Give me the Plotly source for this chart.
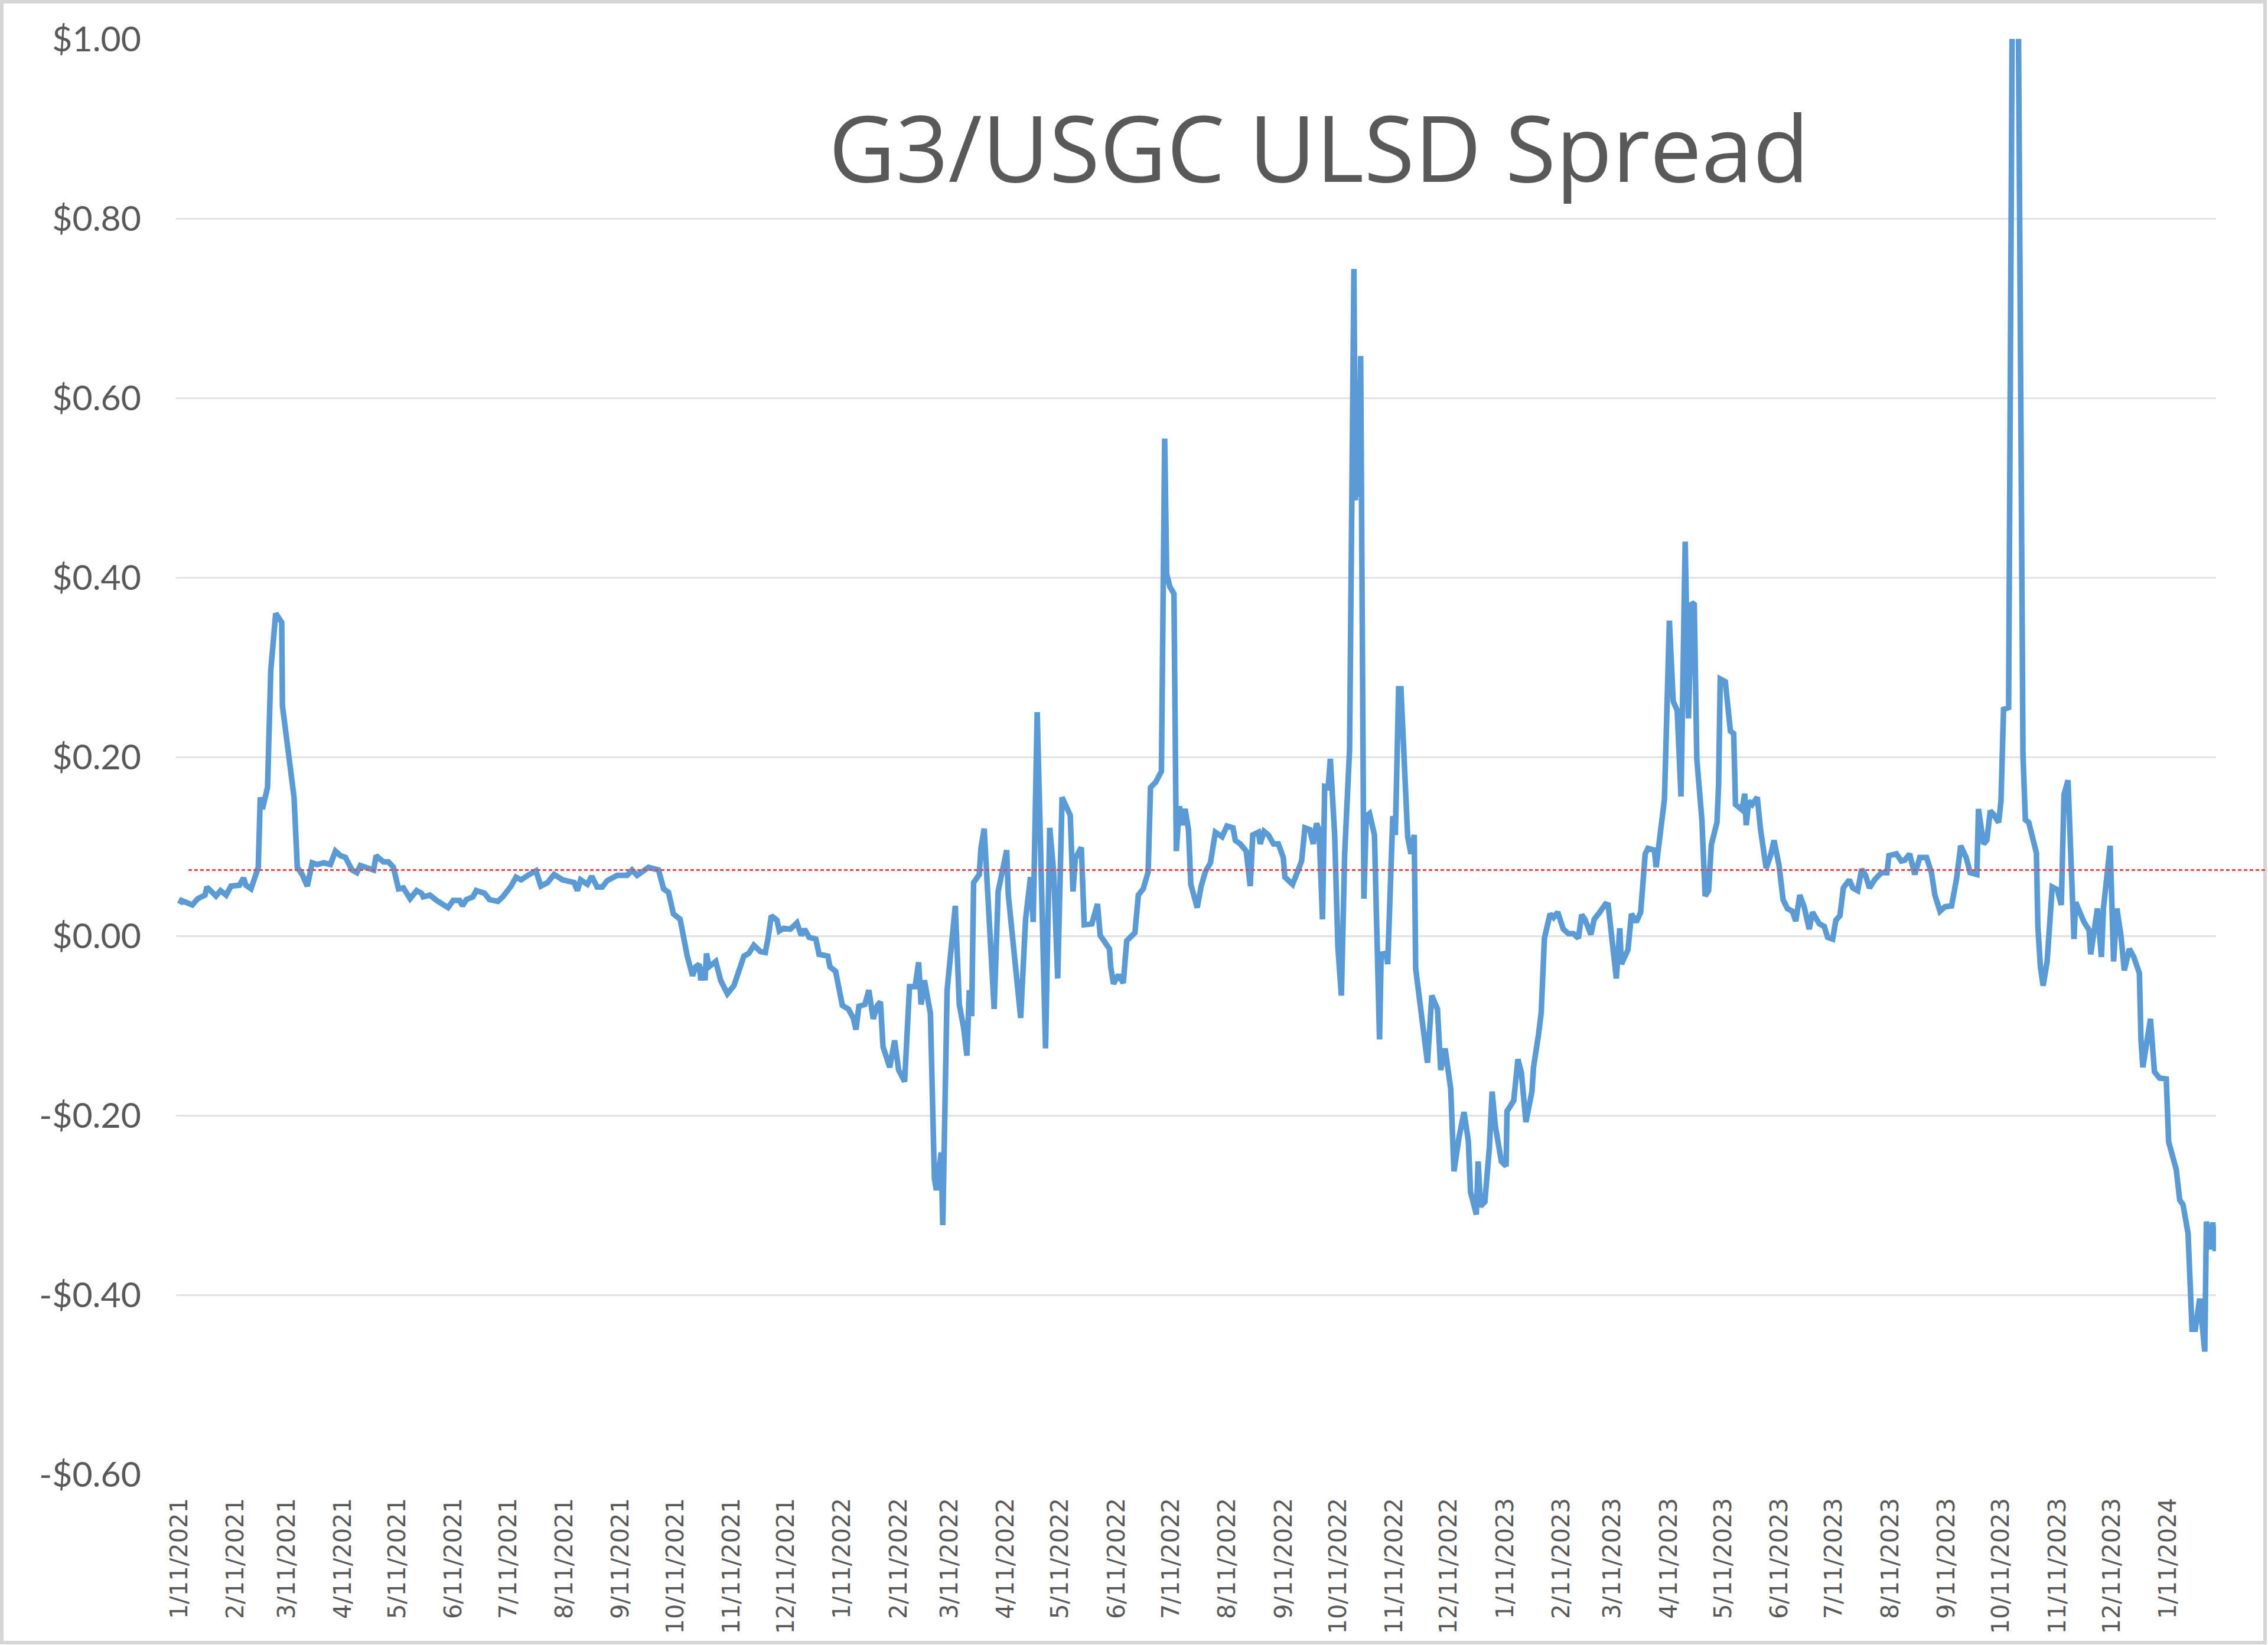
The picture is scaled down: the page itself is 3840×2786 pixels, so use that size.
import plotly.graph_objects as go
import pandas as pd

# ---------------- data ----------------
BASE_DATE = "2021-01-11"          # day offsets below are counted from this date

pts_2021 = [
    (0, 0.036), (1, 0.040), (7, 0.035), (10, 0.042), (14, 0.046), (15, 0.055), (20, 0.045),
    (22.5, 0.051), (25.6, 0.046), (28.3, 0.056), (32.9, 0.057), (35.2, 0.065), (36.5, 0.057),
    (39.3, 0.053), (42, 0.069), (43.3, 0.077), (44.4, 0.155), (45.6, 0.142), (48.4, 0.166),
    (50.2, 0.297), (52.9, 0.360), (54.8, 0.355), (56.2, 0.350), (56.6, 0.257), (58.4, 0.229),
    (60.2, 0.210), (63, 0.155), (64.8, 0.077), (67.5, 0.069), (70.3, 0.056), (73, 0.082),
    (75.7, 0.080), (79.4, 0.082), (83, 0.080), (85.8, 0.095), (88.5, 0.090), (91.3, 0.088),
    (94.9, 0.074), (97.6, 0.071), (99.5, 0.079), (106.8, 0.074), (108.2, 0.090), (112.2, 0.083),
    (115, 0.083), (117.7, 0.077), (120.5, 0.053), (123.2, 0.054), (126.9, 0.042), (130.5, 0.051),
    (133.2, 0.048), (134.1, 0.044), (137.8, 0.046), (141.5, 0.040), (147.8, 0.032), (150.6, 0.040),
    (154.2, 0.040), (155.7, 0.034), (157.9, 0.041), (161.5, 0.044), (163.3, 0.051), (167.9, 0.048),
    (170.6, 0.041), (175.2, 0.039), (177.9, 0.044), (182.5, 0.056), (185.2, 0.066), (188, 0.063),
    (192.5, 0.069), (196.2, 0.073), (198.9, 0.056), (202.6, 0.060), (206.2, 0.069), (210.8, 0.063),
    (217.2, 0.060), (219, 0.051), (220.8, 0.063), (224.5, 0.058), (226.9, 0.067), (229.9, 0.055),
    (232.7, 0.055), (235.4, 0.062), (240.9, 0.068), (246.4, 0.068), (249.1, 0.074), (251.9, 0.068),
    (258.2, 0.077), (263.7, 0.074), (266.5, 0.053), (269.2, 0.049), (271.9, 0.025), (275.6, 0.019),
    (279.5, -0.022), (282.4, -0.044), (284.2, -0.034), (286.1, -0.031), (287, -0.049),
    (288.2, -0.034), (289.3, -0.049), (290.1, -0.019), (291.5, -0.034), (295.2, -0.028),
    (297.9, -0.049), (301.6, -0.064), (305.2, -0.055), (308, -0.038), (310.7, -0.022),
    (313.4, -0.019), (316.2, -0.010), (319.8, -0.017), (322.5, -0.018), (324, -0.002),
    (325.8, 0.023), (328.9, 0.018), (330.2, 0.006), (332.6, 0.009), (336.2, 0.008),
    (339.9, 0.015), (342.3, 0.001), (344.1, 0.008), (346.6, -0.001), (350.3, -0.003),
    (352.1, -0.020),
]

pts_2022 = [
    (356.9, -0.022), (358.1, -0.034), (361.2, -0.039), (364.9, -0.077), (368.2, -0.081),
    (370.9, -0.091), (372.4, -0.104), (374, -0.078), (377.3, -0.076), (379.5, -0.060),
    (381.9, -0.092), (384.2, -0.077), (385.9, -0.073), (387.3, -0.123), (391, -0.146),
    (393.7, -0.116), (395.9, -0.149), (399.2, -0.162), (401.9, -0.056), (405, -0.056),
    (406.9, -0.029), (408.3, -0.076), (410.1, -0.049), (413.4, -0.086), (415.6, -0.270),
    (416.7, -0.283), (419.3, -0.241), (420.2, -0.322), (422.6, -0.060), (424.7, -0.013),
    (427.1, 0.034), (429.3, -0.076), (431.7, -0.102), (433.5, -0.133), (434.8, -0.060),
    (436.1, -0.089), (437.2, 0.060), (440.3, 0.069), (441.2, 0.098), (443, 0.120),
    (444.8, 0.061), (448.5, -0.081), (450.7, 0.050), (453, 0.077), (455.4, 0.096),
    (456.3, 0.046), (463.1, -0.091), (465.8, 0.019), (468.5, 0.066), (470, 0.016),
    (472.2, 0.250), (476.8, -0.125), (479.1, 0.121), (481.3, 0.071), (483.5, -0.047),
    (485.9, 0.155), (490.4, 0.135), (491.9, 0.050), (493.2, 0.087), (496.5, 0.099),
    (498.1, 0.013), (502.3, 0.014), (505.4, 0.036), (506.9, 0.001), (512, -0.014),
    (512.7, -0.034), (514.2, -0.053), (516.9, -0.043), (519.6, -0.052), (521.5, -0.005),
    (526, 0.004), (527.9, 0.046), (530.6, 0.053), (533.3, 0.072), (534.6, 0.166),
    (537.5, 0.172), (540.6, 0.184), (542.4, 0.555), (543.5, 0.404), (545.2, 0.390),
    (547.5, 0.382), (548.8, 0.095), (550.5, 0.145), (552.2, 0.124), (553.6, 0.142),
    (555.5, 0.119), (556.8, 0.058), (560.3, 0.032), (562.5, 0.056), (564.8, 0.072),
    (567.6, 0.082), (570.3, 0.116), (574, 0.111), (576.7, 0.123), (580, 0.121),
    (581.3, 0.107), (584, 0.103), (587.3, 0.095), (589.5, 0.056), (590.9, 0.113),
    (594, 0.116), (595, 0.103), (597.1, 0.117), (599.5, 0.113), (602.3, 0.103),
    (605, 0.103), (607.7, 0.088), (608.6, 0.066), (612.8, 0.058), (615, 0.069),
    (617.8, 0.084), (619.6, 0.121), (622.3, 0.119), (624.2, 0.103), (626, 0.126),
    (627.4, 0.119), (629.3, 0.019), (630.5, 0.167), (632.4, 0.166), (633.6, 0.198),
    (636, 0.113), (637.8, -0.013), (639.7, -0.066), (641.5, 0.092), (644.2, 0.208),
    (646.6, 0.744), (647.4, 0.486), (648.4, 0.620), (649.3, 0.490), (650.3, 0.647),
    (652.1, 0.042), (653.4, 0.134), (655.2, 0.137), (657.9, 0.113), (659.7, -0.070),
    (660.7, -0.115), (661.6, -0.020), (664.3, -0.019), (665.2, -0.031), (668, 0.134),
    (669.4, 0.113), (671.2, 0.276), (672.5, 0.276), (674.3, 0.187), (676.2, 0.111),
    (678, 0.092), (679.8, 0.113), (680.6, -0.036), (682.6, -0.070), (685.3, -0.107),
    (687.1, -0.141), (689.5, -0.066), (692.6, -0.081), (694.4, -0.149), (696.8, -0.125),
    (699.9, -0.170), (701.7, -0.262), (704.4, -0.225), (707.2, -0.196), (709.6, -0.228),
    (710.8, -0.285), (714, -0.310), (715, -0.251), (716.3, -0.301), (718.7, -0.296),
]

pts_2023 = [
    (721.2, -0.235), (722.7, -0.173), (724.5, -0.212), (727.8, -0.251), (730.4, -0.256),
    (730.9, -0.195), (734.6, -0.183), (736.9, -0.137), (738.8, -0.152), (741.3, -0.207),
    (744.6, -0.173), (745.5, -0.146), (748.2, -0.110), (749.7, -0.086), (751.5, -0.002),
    (754.6, 0.025), (756.5, 0.021), (758.8, 0.027), (761.9, 0.008), (764.7, 0.003),
    (767.4, 0.003), (770.2, -0.002), (772, 0.024), (773.8, 0.019), (777.1, 0.002),
    (778.9, 0.019), (782, 0.027), (785.1, 0.036), (786.6, 0.035), (789, -0.013),
    (791.1, -0.047), (793, 0.009), (793.9, -0.031), (797.5, -0.015), (799.4, 0.025),
    (802.1, 0.016), (804.5, 0.027), (807, 0.092), (808.5, 0.098), (812.1, 0.096),
    (813, 0.077), (817.6, 0.153), (820.3, 0.352), (822.4, 0.262), (824.6, 0.252),
    (826.7, 0.156), (829, 0.440), (830.8, 0.243), (832.6, 0.372), (834, 0.370),
    (835.4, 0.198), (838.2, 0.130), (840, 0.045), (841.9, 0.051), (843.4, 0.102),
    (846.5, 0.127), (847.4, 0.169), (848.3, 0.287), (851.1, 0.284), (853.9, 0.229),
    (855.7, 0.226), (856.7, 0.147), (860.3, 0.141), (861.8, 0.159), (862.6, 0.124),
    (864, 0.151), (865.9, 0.147), (868.7, 0.155), (870.5, 0.119), (873.6, 0.076),
    (876, 0.090), (877.9, 0.107), (880.7, 0.079), (882.9, 0.041), (885.3, 0.031),
    (888, 0.028), (889.9, 0.017), (892.1, 0.046), (894.5, 0.033), (897.3, 0.008),
    (899.1, 0.027), (902.8, 0.014), (905.6, 0.011), (907.4, -0.001), (910.2, -0.003),
    (912, 0.018), (914.2, 0.023), (916.1, 0.054), (919.4, 0.063), (921.3, 0.054),
    (924, 0.051), (926.2, 0.075), (928.3, 0.068), (930.5, 0.054), (933.3, 0.063),
    (937, 0.071), (940.1, 0.071), (941.2, 0.090), (945.3, 0.092), (948, 0.084),
    (949.9, 0.085), (952.6, 0.092), (955.4, 0.069), (958.2, 0.088), (961.9, 0.088),
    (964.6, 0.071), (966.5, 0.046), (969.3, 0.028), (972, 0.033), (975.7, 0.034),
    (978.5, 0.065), (980.7, 0.101), (983.7, 0.088), (985.9, 0.071), (989.6, 0.069),
    (990.5, 0.142), (993.3, 0.103), (995.1, 0.107), (997, 0.140), (998.8, 0.136),
    (1001.6, 0.127), (1002.9, 0.151), (1004.3, 0.253), (1007.1, 0.255), (1009.3, 1.12),
    (1012, 1.18), (1015, 0.203), (1016.3, 0.130), (1018.2, 0.127), (1022.4, 0.093),
    (1023.2, 0.011), (1024.6, -0.034), (1026.1, -0.055), (1028.3, -0.028), (1031.1, 0.055),
    (1033.9, 0.052), (1036.1, 0.035), (1037.6, 0.158), (1039.8, 0.174), (1043.1, -0.003),
    (1044, 0.038), (1048.6, 0.016), (1051.4, 0.007), (1052.3, -0.020), (1056, 0.031),
    (1058.2, -0.023), (1059.3, 0.031), (1063, 0.101), (1064.9, -0.028), (1066.7, 0.031),
    (1069, 0.000), (1070.8, -0.038), (1073.6, -0.014), (1076, -0.023), (1079.1, -0.041),
    (1080, -0.116), (1081, -0.146),
]

pts_2024 = [
    (1085.2, -0.092), (1087.4, -0.151), (1090.2, -0.158), (1093.9, -0.159), (1095.2, -0.229),
    (1099.4, -0.260), (1101.3, -0.294), (1103.1, -0.299), (1105.9, -0.331), (1108.1, -0.438),
    (1109.9, -0.438), (1112.3, -0.404), (1115.1, -0.463), (1116, -0.318), (1117.8, -0.349),
    (1119.5, -0.319), (1121, -0.351),
]

reference_level = 0.074   # red dashed reference line

tick_labels = [
    "1/11/2021", "2/11/2021", "3/11/2021", "4/11/2021", "5/11/2021", "6/11/2021",
    "7/11/2021", "8/11/2021", "9/11/2021", "10/11/2021", "11/11/2021", "12/11/2021",
    "1/11/2022", "2/11/2022", "3/11/2022", "4/11/2022", "5/11/2022", "6/11/2022",
    "7/11/2022", "8/11/2022", "9/11/2022", "10/11/2022", "11/11/2022", "12/11/2022",
    "1/11/2023", "2/11/2023", "3/11/2023", "4/11/2023", "5/11/2023", "6/11/2023",
    "7/11/2023", "8/11/2023", "9/11/2023", "10/11/2023", "11/11/2023", "12/11/2023",
    "1/11/2024",
]

y_tick_vals = [-0.6, -0.4, -0.2, 0.0, 0.2, 0.4, 0.6, 0.8, 1.0]
y_tick_text = ["-$0.60", "-$0.40", "-$0.20", "$0.00", "$0.20", "$0.40", "$0.60", "$0.80", "$1.00"]

title_text = "G3/USGC ULSD Spread"

# ---------------- build ----------------
all_pts = pts_2021 + pts_2022 + pts_2023 + pts_2024
base = pd.Timestamp(BASE_DATE)
dates = [base + pd.Timedelta(days=d) for d, _ in all_pts]
values = [v for _, v in all_pts]
tick_dates = [pd.to_datetime(t, format="%m/%d/%Y") for t in tick_labels]

x_start = base + pd.Timedelta(days=-2)
x_end = base + pd.Timedelta(days=1121.3)

fig = go.Figure()
fig.add_trace(go.Scatter(
    x=dates, y=values, mode="lines",
    line=dict(color="#5B9BD5", width=9.5),
    hoverinfo="skip", showlegend=False,
))

W, H = 3840, 2786
L, R, T, B = 298, 88, 66, 288
pw, ph = W - L - R, H - T - B

def px_to_paper_x(px):
    return (px - L) / pw

def px_to_paper_y(py):
    return (H - B - py) / ph

fig.update_layout(
    width=W, height=H,
    margin=dict(l=L, r=R, t=T, b=B, pad=0),
    paper_bgcolor="white", plot_bgcolor="white",
    showlegend=False,
    xaxis=dict(
        type="date", range=[x_start, x_end],
        tickmode="array", tickvals=tick_dates, ticktext=tick_labels,
        tickangle=-90,
        tickfont=dict(family="DejaVu Sans", size=40, color="#595959"),
        showgrid=False, zeroline=False, showline=False, ticks="",
        ticklabelstandoff=30,
    ),
    yaxis=dict(
        range=[-0.6005, 1.0005],
        tickmode="array", tickvals=y_tick_vals, ticktext=y_tick_text,
        tickfont=dict(family="Lato", size=59, color="#595959"),
        showgrid=True, gridcolor="#e3e3e3", gridwidth=3,
        zeroline=False, showline=False, ticks="",
        ticklabelstandoff=58,
    ),
    annotations=[dict(
        text=title_text, xref="paper", yref="paper",
        x=px_to_paper_x(2233), y=px_to_paper_y(247),
        xanchor="center", yanchor="middle", showarrow=False,
        font=dict(family="Open Sans", size=156, color="#595959"),
    )],
    shapes=[
        dict(type="line", xref="paper", yref="y",
             x0=px_to_paper_x(319), x1=px_to_paper_x(3838),
             y0=reference_level, y1=reference_level,
             line=dict(color="#FF4040", width=3, dash="6px,4px")),
        dict(type="rect", xref="paper", yref="paper",
             x0=px_to_paper_x(3), x1=px_to_paper_x(3835),
             y0=px_to_paper_y(2782), y1=px_to_paper_y(3),
             line=dict(color="#d6d6d6", width=6), fillcolor="rgba(0,0,0,0)",
             layer="below"),
    ],
)

fig.write_html("out.html")
